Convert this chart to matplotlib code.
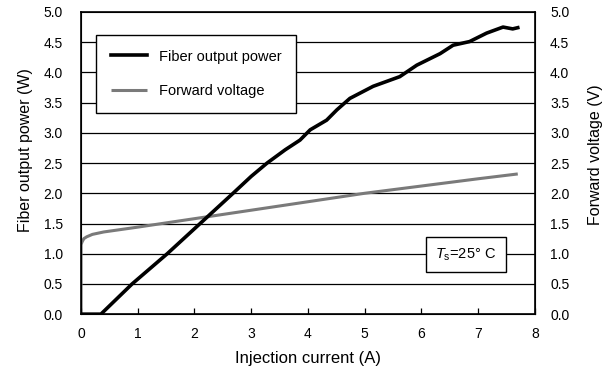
import matplotlib
matplotlib.use("Agg")
import matplotlib.pyplot as plt

plt.rcParams['font.family'] = ['Liberation Sans', 'DejaVu Sans']
plt.rcParams['mathtext.fontset'] = 'custom'
plt.rcParams['mathtext.it'] = 'Liberation Sans:italic'
plt.rcParams['mathtext.rm'] = 'Liberation Sans'

power_i = [0, 0.35, 0.9, 1.52, 2.1, 2.68, 3.0, 3.28, 3.6, 3.86, 4.04, 4.33, 4.51, 4.74,
           5.15, 5.62, 5.92, 6.33, 6.56, 6.85, 7.15, 7.44, 7.61, 7.70]
power_w = [0, 0, 0.5, 1.0, 1.5, 2.0, 2.28, 2.5, 2.72, 2.88, 3.05, 3.21, 3.38, 3.57,
           3.77, 3.93, 4.12, 4.31, 4.45, 4.51, 4.65, 4.75, 4.72, 4.74]

volt_i = [0, 0, 0.02, 0.05, 0.1, 0.2, 0.4, 1, 2, 3, 4, 5, 6, 7, 7.7]
volt_v = [0, 1.15, 1.2, 1.25, 1.28, 1.32, 1.36, 1.44, 1.58, 1.72, 1.86, 2.0, 2.12, 2.24, 2.32]

yticks = [0.0, 0.5, 1.0, 1.5, 2.0, 2.5, 3.0, 3.5, 4.0, 4.5, 5.0]
xticks = [0, 1, 2, 3, 4, 5, 6, 7, 8]

fig = plt.figure(figsize=(6.14, 3.74), dpi=100)
ax = fig.add_axes([0.132, 0.160, 0.739, 0.808])

for y in yticks[1:-1]:
    ax.axhline(y, color='black', lw=0.9, zorder=1)

ax.plot(volt_i, volt_v, color='#7a7a7a', lw=2.2, zorder=3, label='Forward voltage',
        solid_capstyle='butt')
ax.plot(power_i, power_w, color='black', lw=2.6, zorder=4, label='Fiber output power')

ax.set_xlim(0, 8)
ax.set_ylim(0, 5)
ax.set_xticks(xticks)
ax.set_yticks(yticks)
ax.set_yticklabels([f"{v:.1f}" for v in yticks])
ax.tick_params(axis='x', direction='in', length=4, width=0.9, labelsize=10, pad=9)
ax.tick_params(axis='y', direction='in', length=0, labelsize=10, pad=13)
for s in ax.spines.values():
    s.set_linewidth(1.2)

ax2 = ax.twinx()
ax2.set_ylim(0, 5)
ax2.set_yticks(yticks)
ax2.set_yticklabels([f"{v:.1f}" for v in yticks])
ax2.tick_params(axis='y', direction='in', length=0, labelsize=10, pad=11)

ax.set_xlabel('Injection current (A)', fontsize=12)
ax.set_ylabel('Fiber output power (W)', fontsize=11.5)
ax2.set_ylabel('Forward voltage (V)', fontsize=11.5)
ax.xaxis.set_label_coords(0.5, -0.123)
ax.yaxis.set_label_coords(-0.106, 0.543)
ax2.yaxis.set_label_coords(1.117, 0.527)

handles, labels = ax.get_legend_handles_labels()
leg = ax.legend(handles[::-1], labels[::-1], loc='upper left', bbox_to_anchor=(0.033, 0.924),
                fontsize=10.5, frameon=True, fancybox=False, edgecolor='black',
                framealpha=1, labelspacing=1.4, handlelength=2.5, borderpad=1.0,
                handletextpad=0.8, borderaxespad=0)
leg.get_frame().set_linewidth(1.0)

ax.text(6.78, 0.99, r'$T_\mathrm{s}$=25° C', fontsize=10.5, ha='center', va='center',
        zorder=6, bbox=dict(boxstyle='square,pad=0.65', facecolor='white', edgecolor='black', lw=1.0))

fig.savefig('out.png', dpi=100)
